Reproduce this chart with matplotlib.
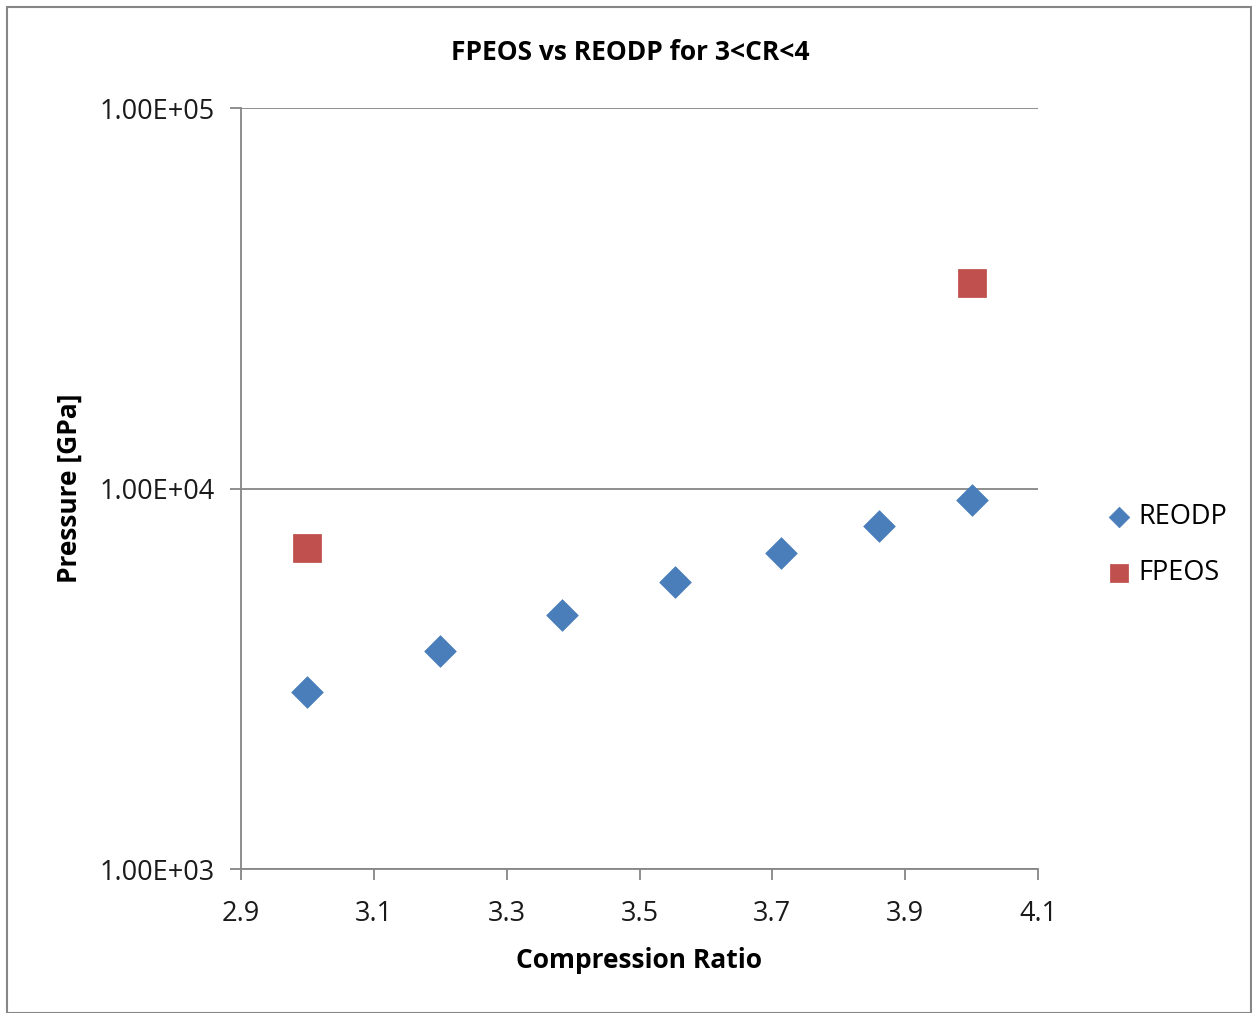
import matplotlib.pyplot as plt
from matplotlib.patches import Rectangle

# data
reodp_cr = [3.0, 3.2, 3.383, 3.553, 3.713, 3.861, 4.0]
reodp_p = [2920, 3740, 4650, 5680, 6770, 7970, 9330]
fpeos_cr = [3.0, 4.0]
fpeos_p = [6980, 34700]

x_ticks = [2.9, 3.1, 3.3, 3.5, 3.7, 3.9, 4.1]
y_ticks = [1e3, 1e4, 1e5]
y_labels = ["1.00E+03", "1.00E+04", "1.00E+05"]

plt.rcParams['font.family'] = ['Open Sans', 'DejaVu Sans']
grey = '#868686'

fig = plt.figure(figsize=(12.52, 10.13), dpi=100)
ax = fig.add_axes([241/1252, 1 - 869/1013, (1038-241)/1252, (869-108)/1013])

ax.scatter(reodp_cr, reodp_p, marker='D', s=260, color='#4a7ebb', edgecolors='#4a7ebb',
           linewidths=0.5, label='REODP', zorder=3)
ax.scatter(fpeos_cr, fpeos_p, marker='s', s=420, color='#c0504d', edgecolors='#be4b48',
           linewidths=0.5, label='FPEOS', zorder=3)

ax.set_yscale('log')
ax.set_xlim(2.9, 4.1)
ax.set_ylim(1e3, 1e5)
ax.set_xticks(x_ticks)
ax.set_xticklabels([f"{v:.1f}" for v in x_ticks])
ax.set_yticks(y_ticks)
ax.set_yticklabels(y_labels)
ax.minorticks_off()
ax.yaxis.grid(True, color=grey, linewidth=1.3)
ax.set_axisbelow(True)

for s in ['top', 'right']:
    ax.spines[s].set_visible(False)
for s in ['left', 'bottom']:
    ax.spines[s].set_color(grey)
    ax.spines[s].set_linewidth(1.3)
ax.tick_params(axis='both', direction='out', length=8, width=1.3, color=grey,
               labelsize=19.5, labelcolor='#1a1a1a')
ax.tick_params(axis='x', pad=14)
ax.tick_params(axis='y', pad=11)

ax.set_xlabel('Compression Ratio', fontsize=19, fontweight='bold', labelpad=14)
ax.set_ylabel('Pressure [GPa]', fontsize=19, fontweight='bold', labelpad=12)
fig.text(630/1252, 1 - 52/1013, 'FPEOS vs REODP for 3<CR<4', fontsize=19,
         fontweight='bold', ha='center', va='center')

fig.legend(loc='center left', bbox_to_anchor=(1092/1252, 1 - 545/1013), frameon=False,
           fontsize=19.5, handletextpad=-0.3, labelspacing=1.05, markerscale=0.65,
           borderaxespad=0, borderpad=0)

fig.patches.append(Rectangle((7/1252, 0), 1244/1252, 1 - 7/1013, transform=fig.transFigure,
                             fill=False, edgecolor=grey, linewidth=1.5))

fig.savefig('out.png', dpi=100)
